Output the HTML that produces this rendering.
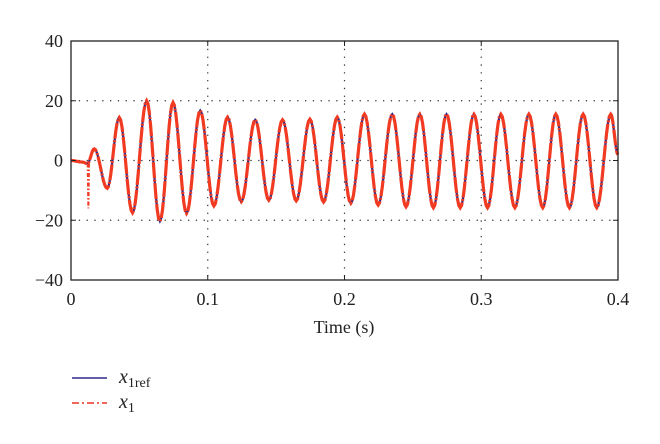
<!DOCTYPE html>
<html><head><meta charset="utf-8"><style>
body{margin:0;background:#fff}
svg{display:block;font-family:"Liberation Serif",serif}
</style></head><body>
<svg id="chart" width="660" height="444" viewBox="0 0 660 444" xmlns="http://www.w3.org/2000/svg">
<g id="grid"></g>
<g id="series"></g>
<rect x="71" y="41" width="547" height="239" fill="none" stroke="#222" stroke-width="1.3"/>
<g id="ticks"></g>
<text x="344" y="333" font-size="18" text-anchor="middle" fill="#222">Time (s)</text>
<g>
<line x1="72" y1="378" x2="107" y2="378" stroke="#2b2a8a" stroke-width="1.4"/>
<text x="119" y="383" font-size="20" font-style="italic" fill="#222">x<tspan font-size="14" font-style="normal" dy="4">1ref</tspan></text>
<line x1="72" y1="403" x2="107" y2="403" stroke="#ee3322" stroke-width="1.4" stroke-dasharray="7,3,2,3"/>
<text x="119" y="408" font-size="20" font-style="italic" fill="#222">x<tspan font-size="14" font-style="normal" dy="4">1</tspan></text>
</g>
</svg>
<script>
const xTicks=[0,0.1,0.2,0.3,0.4];
const xTickLabels=["0","0.1","0.2","0.3","0.4"];
const yTicks=[-40,-20,0,20,40];
const yTickLabels=["\u221240","\u221220","0","20","40"];
const extremaT=[0,0.008,0.012,0.017,0.0265,0.0353,0.045,0.0553,0.065,0.0746,0.0845,0.0945,0.1045,0.1145,0.1245,0.1347,0.1447,0.1547,0.1647,0.1747,0.1847,0.1947,0.2046,0.2146,0.2246,0.2349,0.245,0.2551,0.265,0.2746,0.2846,0.2946,0.3046,0.3143,0.3246,0.3348,0.345,0.3545,0.3645,0.3745,0.3845,0.3947,0.4];
const extremaV=[0,-0.5,-1,3.9,-9.3,14.4,-17.5,20,-20.3,19.4,-17.7,16.7,-15.2,14.5,-13.8,13.6,-13.3,13.6,-13.5,13.8,-13.9,14.5,-14.3,15.5,-14.9,15.5,-15.5,15.5,-15.8,15.5,-15.8,15.5,-15.8,15.5,-15.8,15.5,-15.8,15.5,-15.8,15.5,-15.8,15.5,2];
const spikeT=[0.0122,0.0127,0.0132];
const spikeV=[-1,-16,-1];
const X0=71,X1=618,Y0=280,Y1=41;
const xs=t=>X0+(t-0)/(0.4-0)*(X1-X0);
const ys=v=>Y0-(v+40)/80*(Y0-Y1);
const NS="http://www.w3.org/2000/svg";
function mk(tag,attrs,parent){const e=document.createElementNS(NS,tag);for(const k in attrs)e.setAttribute(k,attrs[k]);parent.appendChild(e);return e;}
const grid=document.getElementById('grid'),ticks=document.getElementById('ticks'),ser=document.getElementById('series');
xTicks.forEach((t,i)=>{
 if(i>0&&i<xTicks.length-1){const g=mk('line',{x1:xs(t),x2:xs(t),y1:Y1,y2:Y0,stroke:'#333','stroke-width':1.2,'stroke-dasharray':'1.3,6.5'},grid);
 }
 const tk=mk('line',{x1:xs(t),x2:xs(t),y1:Y0,y2:Y0-5,stroke:'#222'},ticks);
 
 const tt=mk('line',{x1:xs(t),x2:xs(t),y1:Y1,y2:Y1+5,stroke:'#222'},ticks);
 
 const l=mk('text',{x:xs(t),y:Y0+25,'font-size':18,'text-anchor':'middle',fill:'#222'},ticks);l.textContent=xTickLabels[i];
 
});
yTicks.forEach((v,i)=>{
 if(i>0&&i<yTicks.length-1){const g=mk('line',{x1:X0,x2:X1,y1:ys(v),y2:ys(v),stroke:'#333','stroke-width':1.2,'stroke-dasharray':'1.3,6.5'},grid);
 }
 const tk=mk('line',{x1:X0,x2:X0+5,y1:ys(v),y2:ys(v),stroke:'#222'},ticks);
 
 const tr=mk('line',{x1:X1,x2:X1-5,y1:ys(v),y2:ys(v),stroke:'#222'},ticks);
 
 const l=mk('text',{x:X0-8,y:ys(v)+6,'font-size':18,'text-anchor':'end',fill:'#222'},ticks);l.textContent=yTickLabels[i];
 
});
let d='';
for(let i=0;i<extremaT.length-1;i++){
 const t0=extremaT[i],t1=extremaT[i+1],a=extremaV[i],b=extremaV[i+1];
 for(let k=(i?1:0);k<=10;k++){const s=k/10;const t=t0+(t1-t0)*s;const v=a+(b-a)*(1-Math.cos(Math.PI*s))/2;
  d+=(d?'L':'M')+xs(t).toFixed(2)+','+ys(v).toFixed(2);}
}
const ref=mk('path',{d:d,fill:'none',stroke:'#2b2a8a','stroke-width':2.2},ser);

const act=mk('path',{d:d,fill:'none',stroke:'#f03a22','stroke-width':3.2,'stroke-dasharray':'16,1.5,2,1.5'},ser);

const sd=spikeT.map((t,i)=>(i?'L':'M')+xs(t)+','+ys(spikeV[i])).join('');
const sp=mk('path',{d:sd,fill:'none',stroke:'#f03a22','stroke-width':2,'stroke-dasharray':'4,2,1.5,2'},ser);

</script>
</body></html>
